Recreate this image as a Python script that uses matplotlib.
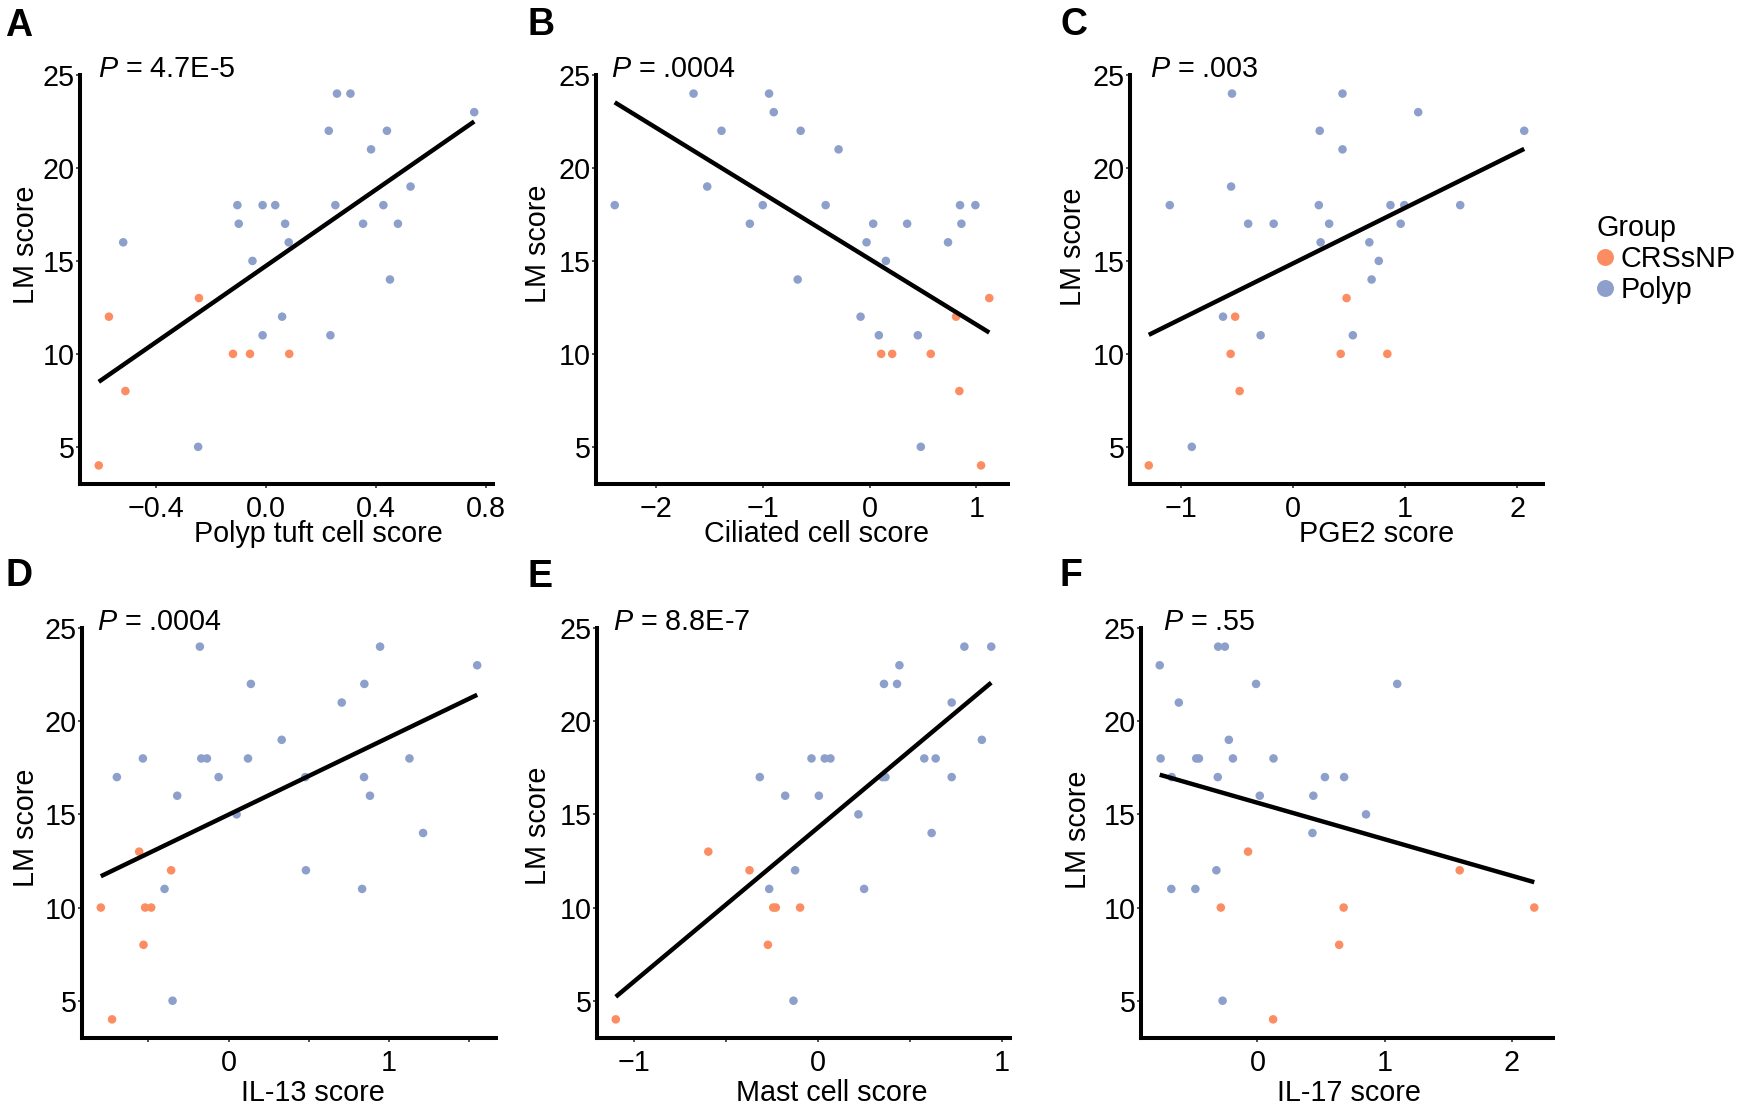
import numpy as np
import matplotlib
matplotlib.use('Agg')
import matplotlib.pyplot as plt
from matplotlib.lines import Line2D

plt.rcParams['font.family'] = ['Liberation Sans', 'DejaVu Sans']
plt.rcParams['mathtext.fontset'] = 'custom'
plt.rcParams['mathtext.rm'] = 'Liberation Sans'
plt.rcParams['mathtext.it'] = 'Liberation Sans:italic'

# LM scores (same patients in every panel), sorted high to low
lm_polyp = [24, 24, 23, 22, 22, 21, 19, 18, 18, 18, 18, 18,
            17, 17, 17, 17, 16, 16, 15, 14, 12, 11, 11, 5]
lm_crs = [13, 12, 10, 10, 10, 8, 4]

# x scores for each panel, in the same order as the LM scores
tuft_polyp = [0.258, 0.307, 0.758, 0.228, 0.44, 0.382, 0.526, -0.105, -0.013, 0.033, 0.252, 0.427,
              -0.1, 0.069, 0.353, 0.48, -0.521, 0.082, -0.05, 0.451, 0.058, -0.013, 0.234, -0.248]
tuft_crs = [-0.245, -0.573, -0.121, -0.059, 0.084, -0.513, -0.61]

cilia_polyp = [-1.648, -0.941, -0.897, -1.386, -0.645, -0.29, -1.52, -2.386, -1.0, -0.411, 0.847, 0.991,
               -1.121, 0.034, 0.352, 0.86, -0.028, 0.735, 0.153, -0.673, -0.084, 0.087, 0.452, 0.48]
cilia_crs = [1.121, 0.81, 0.109, 0.212, 0.573, 0.841, 1.044]

pge2_polyp = [-0.542, 0.442, 1.116, 0.239, 2.06, 0.442, -0.55, -1.096, 0.231, 0.869, 0.992, 1.49,
              -0.398, -0.171, 0.323, 0.96, 0.247, 0.681, 0.765, 0.701, -0.622, -0.287, 0.534, -0.9]
pge2_crs = [0.478, -0.514, -0.554, 0.426, 0.841, -0.474, -1.283]

il13_polyp = [-0.179, 0.944, 1.549, 0.139, 0.846, 0.705, 0.331, -0.534, -0.17, -0.135, 0.121, 1.127,
              -0.696, -0.062, 0.478, 0.844, -0.32, 0.881, 0.05, 1.212, 0.482, -0.399, 0.832, -0.349]
il13_crs = [-0.557, -0.358, -0.796, -0.52, -0.482, -0.53, -0.726]

mast_polyp = [0.795, 0.941, 0.442, 0.358, 0.429, 0.726, 0.89, -0.036, 0.036, 0.067, 0.577, 0.639,
              -0.317, 0.366, 0.726, 0.35, -0.179, 0.004, 0.219, 0.617, -0.125, -0.266, 0.25, -0.134]
mast_crs = [-0.597, -0.373, -0.244, -0.23, -0.098, -0.273, -1.1]

il17_polyp = [-0.309, -0.256, -0.768, -0.011, 1.098, -0.618, -0.225, -0.761, -0.481, -0.46, -0.193, 0.126,
              -0.674, -0.312, 0.53, 0.681, 0.018, 0.439, 0.853, 0.432, -0.323, -0.677, -0.488, -0.274]
il17_crs = [-0.074, 1.589, -0.288, 0.677, 2.175, 0.642, 0.123]

letters = ['A', 'B', 'C', 'D', 'E', 'F']
xlabels = ['Polyp tuft cell score', 'Ciliated cell score', 'PGE2 score',
           'IL-13 score', 'Mast cell score', 'IL-17 score']
pvalues = ['4.7E-5', '.0004', '.003', '.0004', '8.8E-7', '.55']
xticks = [[-0.4, 0.0, 0.4, 0.8], [-2, -1, 0, 1], [-1, 0, 1, 2],
          [-0.5, 0, 0.5, 1, 1.5], [-1, -0.5, 0, 0.5, 1], [0, 1, 2]]
xticklabels = [['\u22120.4', '0.0', '0.4', '0.8'], ['\u22122', '\u22121', '0', '1'],
               ['\u22121', '0', '1', '2'], ['', '0', '', '1', ''],
               ['\u22121', '', '0', '', '1'], ['0', '1', '2']]
yticks = [5, 10, 15, 20, 25]

panels_x = [(tuft_polyp, tuft_crs), (cilia_polyp, cilia_crs), (pge2_polyp, pge2_crs),
            (il13_polyp, il13_crs), (mast_polyp, mast_crs), (il17_polyp, il17_crs)]

col_polyp = '#8DA0CB'
col_crs = '#FC8D62'

# layout in pixels of the 1743x1108 figure
W, H = 1743, 1108
boxes = [(80, 493, 75, 484), (596, 1008, 75, 484), (1130, 1543, 75, 484),
         (82, 496, 628, 1038), (597, 1010, 628, 1038), (1141, 1553, 628, 1038)]
letter_pos = [(5, 36), (527, 35), (1060, 35), (5, 586), (527, 587), (1060, 586)]
ylabel_pos = [(26, 245), (538, 244), (1073, 247), (26, 828), (538, 826), (1078, 830)]
xlabel_pos = [(318, 542), (817, 542), (1377, 542), (313, 1101), (832, 1101), (1349, 1101)]
p_offset = [18, 15, 20, 15, 16, 22]


def fx(px):
    return px / W


def fy(py):
    return 1 - py / H


def expand(vals):
    lo, hi = min(vals), max(vals)
    pad = 0.05 * (hi - lo)
    return lo - pad, hi + pad


fig = plt.figure(figsize=(W / 100, H / 100), dpi=100)
fs = 20.7

for i in range(6):
    left, right, top, bottom = boxes[i]
    ax = fig.add_axes([fx(left), fy(bottom), (right - left) / W, (bottom - top) / H])
    xp, xc = panels_x[i]
    all_x = list(xp) + list(xc)
    all_y = lm_polyp + lm_crs

    ax.scatter(xc, lm_crs, s=38, color=col_crs, edgecolors='none', zorder=2)
    ax.scatter(xp, lm_polyp, s=38, color=col_polyp, edgecolors='none', zorder=2)

    # linear fit over all samples
    slope, icpt = np.polyfit(all_x, all_y, 1)
    xs = np.array([min(all_x), max(all_x)])
    ax.plot(xs, slope * xs + icpt, color='black', lw=3.2, solid_capstyle='butt', zorder=3)

    ax.set_xlim(expand(all_x))
    ax.set_ylim(expand(all_y))
    ax.set_xticks(xticks[i], xticklabels[i])
    ax.set_yticks(yticks)

    for side in ['top', 'right']:
        ax.spines[side].set_visible(False)
    for side in ['left', 'bottom']:
        ax.spines[side].set_linewidth(2.9)
        ax.spines[side].set_capstyle('projecting')
    ax.tick_params(length=3.2, width=1.2, color='#333333', labelsize=fs, labelcolor='black')
    ax.tick_params(axis='x', pad=5)
    ax.tick_params(axis='y', pad=0.6)

    ax.annotate(r'$\it{P}$ = ' + pvalues[i], xy=(0, 1), xycoords='axes fraction',
                xytext=(p_offset[i] * 0.72, -1.4), textcoords='offset points',
                ha='left', va='baseline', fontsize=fs)

    fig.text(fx(letter_pos[i][0]), fy(letter_pos[i][1]), letters[i], fontsize=27,
             fontweight='bold', ha='left', va='baseline')
    fig.text(fx(ylabel_pos[i][0]), fy(ylabel_pos[i][1]), 'LM score', fontsize=fs,
             rotation=90, ha='center', va='center')
    fig.text(fx(xlabel_pos[i][0]), fy(xlabel_pos[i][1]), xlabels[i], fontsize=fs,
             ha='center', va='baseline')

# group legend
handles = [Line2D([], [], ls='none', marker='o', ms=12.2, color=col_crs, mec='none'),
           Line2D([], [], ls='none', marker='o', ms=12.2, color=col_polyp, mec='none')]
leg = fig.legend(handles, ['CRSsNP', 'Polyp'], title='Group', loc='upper left',
                 bbox_to_anchor=(fx(1596), fy(214)), frameon=False, fontsize=fs,
                 title_fontsize=fs, borderpad=0, borderaxespad=0, handlelength=0.6,
                 handletextpad=0.25, labelspacing=0.1, alignment='left')

fig.savefig('out.png', dpi=100)
